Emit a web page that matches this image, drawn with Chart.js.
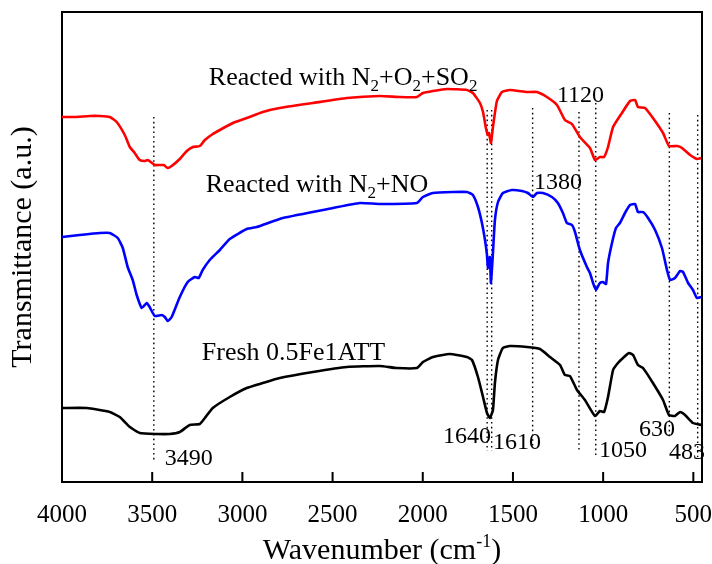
<!DOCTYPE html>
<html><head><meta charset="utf-8">
<script src="https://cdn.jsdelivr.net/npm/chart.js@4.4.1/dist/chart.umd.min.js"></script>
<style>html,body{margin:0;padding:0;background:#fff}</style>
</head><body>
<canvas id="c" width="712" height="564"></canvas>
<script>
// ---- data (wavenumber in cm-1, transmittance in arbitrary units) ----
const xTicks = [4000, 3500, 3000, 2500, 2000, 1500, 1000, 500];

const redWn = [4000,3930,3846,3791,3735,3697,3652,3624,3597,3569,3541,3525,3508,3486,3458,3436,3414,3392,3347,3308,3275,3236,3208,3164,3125,3053,2976,2887,2793,2609,2421,2238,2127,2033,1999,1944,1866,1755,1722,1683,1666,1650,1639,1633,1622,1611,1589,1561,1517,1422,1367,1312,1256,1212,1173,1129,1073,1045,1018,995,973,945,896,851,823,807,768,724,668,635,590,563,518,480,455];
const redT = [365,365,366,366,365,360,347,335,329,322,321,322,320,317,317,317,314,316,323,331,335,336,342,348,352,359,364,370,374,379,384,386,385,385,389,391,393,392,389,379,370,354,347,349,339,355,381,390,392,390,390,385,377,362,358,345,334,322,325,325,335,355,369,381,382,375,374,364,349,336,336,334,327,323,324];

const blueWn = [4000,3902,3791,3735,3691,3663,3636,3608,3586,3558,3530,3514,3486,3447,3430,3414,3392,3347,3303,3264,3242,3220,3181,3125,3070,2976,2920,2776,2498,2349,2238,2033,1999,1944,1833,1755,1722,1694,1672,1655,1644,1639,1628,1622,1611,1600,1583,1556,1506,1450,1417,1389,1367,1334,1284,1251,1223,1201,1173,1156,1129,1090,1073,1056,1040,1018,1001,984,973,951,929,907,879,851,823,807,779,751,712,674,646,629,602,574,557,529,502,480,455];
const blueT = [245,247,249,249,244,234,215,202,187,174,179,175,166,167,165,161,165,185,200,205,204,212,222,232,243,253,255,264,274,279,278,279,285,289,290,290,287,275,259,242,227,214,225,199,229,262,280,289,292,291,289,285,289,289,285,279,269,259,257,250,232,215,209,199,192,199,200,198,219,239,254,259,269,277,278,270,270,264,252,234,212,202,204,211,210,199,192,184,185];

const blackWn = [4000,3863,3735,3680,3624,3569,3475,3403,3347,3292,3236,3208,3164,3070,2976,2887,2793,2609,2421,2238,2144,2033,1999,1944,1850,1755,1727,1694,1666,1644,1628,1611,1600,1583,1556,1517,1422,1350,1295,1239,1212,1184,1145,1101,1045,1018,995,973,945,918,890,857,834,807,779,724,668,635,602,574,546,502,455];
const blackT = [74,74,70,65,55,49,48,48,50,57,58,64,74,85,94,99,104,110,115,116,114,114,120,125,128,125,122,105,85,69,64,72,99,122,134,136,135,133,125,117,107,106,92,82,66,71,70,85,112,119,124,129,127,117,114,99,82,67,66,70,67,59,57];

// dotted reference lines
const markerWn = [3491, 1643, 1618, 1391, 1134, 1041, 633, 476];
const markerTop = [365, 372, 372, 374, 370, 379, 369, 367];
const markerBottom = [22, 31, 31, 34, 30, 25, 44, 25];

// peak labels: text, left position (wavenumber), baseline (a.u.)
const peakText = ['3490', '1640', '1610', '1380', '1120', '1050', '630', '483'];
const peakWn = [3430, 1888, 1611, 1384, 1256, 1023, 801, 635];
const peakT = [17, 39, 33, 293, 380, 25, 46, 23];

// series labels
const seriesNames = [
  [['Reacted with N', 0], ['2', 1], ['+O', 0], ['2', 1], ['+SO', 0], ['2', 1]],
  [['Reacted with N', 0], ['2', 1], ['+NO', 0]],
  [['Fresh 0.5Fe1ATT', 0]]
];
const seriesNameWn = [3186, 3203, 3225];
const seriesNameT = [397, 290, 122];

// ---- chart ----
const FONT = '"Liberation Serif", "Times New Roman", serif';
const pts = (xs, ys) => xs.map((x, i) => ({x: x, y: ys[i]}));

const datasets = [
  {data: pts(redWn, redT), borderColor: '#ff0000'},
  {data: pts(blueWn, blueT), borderColor: '#0000ff'},
  {data: pts(blackWn, blackT), borderColor: '#000000'}
].map(d => Object.assign(d, {borderWidth: 2.6, pointRadius: 0, tension: 0.15, borderJoinStyle: 'round', fill: false, order: 0}));

markerWn.forEach((w, i) => {
  datasets.push({
    data: [{x: w, y: markerTop[i]}, {x: w, y: markerBottom[i]}],
    borderColor: '#000', borderWidth: 1.4, borderDash: [1.6, 3.2], pointRadius: 0, fill: false, order: 5
  });
});

const decor = {
  id: 'decor',
  afterDraw(chart) {
    const ctx = chart.ctx, a = chart.chartArea, xs = chart.scales.x, ys = chart.scales.y;
    ctx.save();
    // top & right frame
    ctx.strokeStyle = '#000'; ctx.lineWidth = 2;
    ctx.beginPath();
    ctx.moveTo(a.left, a.top); ctx.lineTo(a.right, a.top); ctx.lineTo(a.right, a.bottom);
    ctx.stroke();
    // inward ticks
    ctx.beginPath();
    xTicks.forEach(v => {
      const px = xs.getPixelForValue(v);
      ctx.moveTo(px, a.bottom); ctx.lineTo(px, a.bottom - 10);
    });
    ctx.stroke();
    // peak labels
    ctx.fillStyle = '#000'; ctx.textBaseline = 'alphabetic'; ctx.textAlign = 'left';
    ctx.font = '24px ' + FONT;
    peakText.forEach((t, i) => ctx.fillText(t, xs.getPixelForValue(peakWn[i]), ys.getPixelForValue(peakT[i])));
    // series labels with subscripts
    seriesNames.forEach((parts, i) => {
      let x = xs.getPixelForValue(seriesNameWn[i]);
      const y = ys.getPixelForValue(seriesNameT[i]);
      parts.forEach(([t, sub]) => {
        ctx.font = (sub ? '17px ' : '26px ') + FONT;
        ctx.fillText(t, x, sub ? y + 6 : y);
        x += ctx.measureText(t).width;
      });
    });
    // x title with superscript
    const base = 559;
    const p1 = 'Wavenumber (cm', p2 = '-1', p3 = ')';
    ctx.font = '30px ' + FONT; const w1 = ctx.measureText(p1).width, w3 = ctx.measureText(p3).width;
    ctx.font = '18px ' + FONT; const w2 = ctx.measureText(p2).width;
    let x0 = (a.left + a.right) / 2 - (w1 + w2 + w3) / 2;
    ctx.font = '30px ' + FONT; ctx.fillText(p1, x0, base);
    ctx.font = '18px ' + FONT; ctx.fillText(p2, x0 + w1, base - 12);
    ctx.font = '30px ' + FONT; ctx.fillText(p3, x0 + w1 + w2, base);
    ctx.restore();
  }
};

new Chart(document.getElementById('c'), {
  type: 'line',
  data: {datasets: datasets},
  plugins: [decor],
  options: {
    responsive: false, animation: false, devicePixelRatio: 1,
    layout: {padding: {left: 5, right: 10, top: 12, bottom: 0}},
    plugins: {legend: {display: false}, tooltip: {enabled: false}},
    scales: {
      x: {
        type: 'linear', reverse: true, min: 452, max: 4000,
        afterBuildTicks: s => { s.ticks = xTicks.map(v => ({value: v})); },
        afterFit: s => { s.height = 82; s.paddingLeft = 0; s.paddingRight = 0; },
        grid: {display: false},
        border: {display: true, color: '#000', width: 2},
        ticks: {color: '#000', font: {family: FONT, size: 25}, padding: 10, maxRotation: 0, autoSkip: false,
                callback: v => String(v)}
      },
      y: {
        min: 0, max: 470,
        afterFit: s => { s.width = 57; },
        grid: {display: false},
        border: {display: true, color: '#000', width: 2},
        ticks: {display: false},
        title: {display: true, text: 'Transmittance (a.u.)', color: '#000', font: {family: FONT, size: 30}, padding: 0}
      }
    }
  }
});
</script>
</body></html>
